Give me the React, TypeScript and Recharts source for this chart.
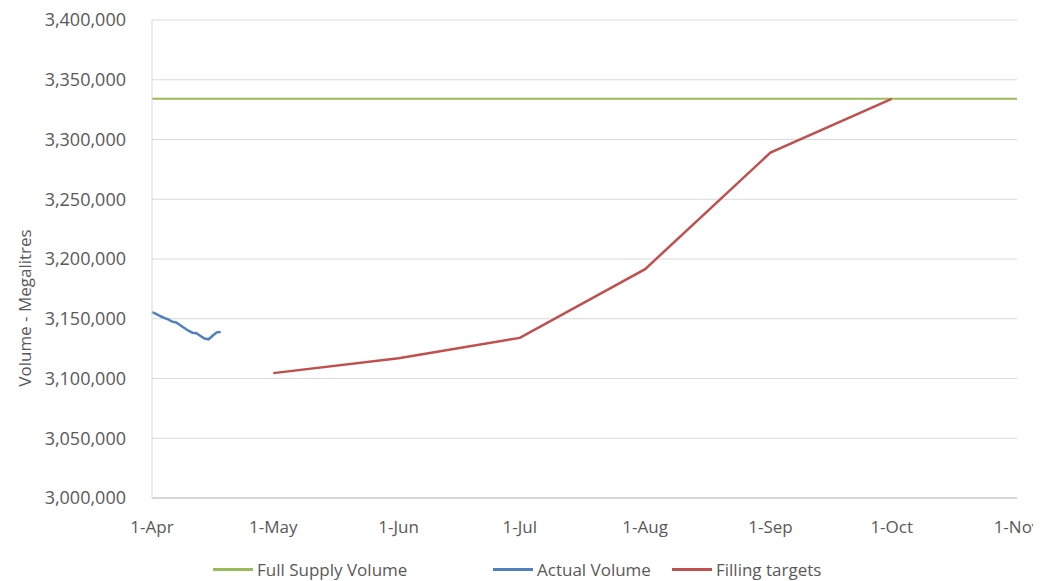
import { CartesianGrid, Legend, Line, LineChart, XAxis, YAxis } from "recharts";

const monthTicks = [0, 30, 61, 91, 122, 153, 183, 214];
const monthLabels = ["1-Apr", "1-May", "1-Jun", "1-Jul", "1-Aug", "1-Sep", "1-Oct", "1-Nov"];
const volumeTicks = [3000000, 3050000, 3100000, 3150000, 3200000, 3250000, 3300000, 3350000, 3400000];
const seriesNames = ["Full Supply Volume", "Actual Volume", "Filling targets"];

const fullSupplyDays = [0, 214];
const fullSupplyVolume = 3334000;

const actualDays = [0, 1, 2, 3, 4, 5, 6, 7, 8, 9, 10, 11, 12, 13, 14, 15, 16, 17];
const actualVolume = [
  3155600, 3154000, 3152300, 3150800, 3149400, 3147600, 3146900, 3144600, 3142300,
  3140000, 3138300, 3137900, 3135600, 3133400, 3132800, 3135800, 3138600, 3138900,
];

const targetDays = [30, 61, 91, 122, 153, 183];
const targetVolume = [3104500, 3117000, 3134000, 3191500, 3289000, 3334000];

const fullSupplyData = fullSupplyDays.map((day) => ({ day, v: fullSupplyVolume }));
const actualData = actualDays.map((day, i) => ({ day, v: actualVolume[i] }));
const targetData = targetDays.map((day, i) => ({ day, v: targetVolume[i] }));

const FONT = "'Open Sans', 'Noto Sans', sans-serif";
const TEXT = "#595959";
const legendWidths = [280, 179, 160];

const monthLabel = (d: number) => monthLabels[monthTicks.indexOf(d)] ?? "";

function LegendRow({ payload }: any) {
  const items = [...(payload || [])].sort(
    (a: any, b: any) => seriesNames.indexOf(a.value) - seriesNames.indexOf(b.value)
  );
  return (
    <div
      style={{
        height: 24,
        display: "flex",
        alignItems: "center",
        paddingLeft: 205,
        fontFamily: FONT,
        fontSize: 17,
        color: TEXT,
      }}
    >
      {items.map((p: any, i: number) => (
        <div key={p.value} style={{ display: "flex", alignItems: "center", width: legendWidths[i] }}>
          <span style={{ width: 40, height: 3, background: p.color, marginRight: 4 }} />
          <span>{p.value}</span>
        </div>
      ))}
    </div>
  );
}

export default function App() {
  return (
    <div style={{ width: 1033, height: 573, background: "#fff" }}>
      <LineChart width={1033} height={573} margin={{ top: 12, right: 24, left: 0, bottom: 0 }}>
        <CartesianGrid stroke="#d9d9d9" vertical={false} />
        <XAxis
          type="number"
          dataKey="day"
          domain={[0, 214]}
          ticks={monthTicks}
          tickFormatter={monthLabel}
          interval={0}
          height={59}
          tickSize={0}
          tickMargin={23}
          stroke="#bfbfbf"
          tick={{ fill: TEXT, fontSize: 17, fontFamily: FONT }}
          allowDuplicatedCategory={false}
        />
        <YAxis
          type="number"
          domain={[3000000, 3400000]}
          ticks={volumeTicks}
          interval={0}
          width={144}
          tickSize={0}
          tickMargin={26}
          stroke="#d9d9d9"
          tickFormatter={(v: number) => v.toLocaleString("en-US")}
          tick={{ fill: TEXT, fontSize: 18, fontFamily: FONT }}
          label={{
            content: () => (
              <text
                transform="translate(16,300) rotate(-90)"
                textAnchor="middle"
                dominantBaseline="central"
                fill={TEXT}
                fontSize={17}
                fontFamily={FONT}
              >
                Volume - Megalitres
              </text>
            ),
          }}
        />
        <Legend verticalAlign="bottom" wrapperStyle={{ left: 0, width: 1033 }} content={<LegendRow />} />
        <Line
          data={fullSupplyData}
          dataKey="v"
          name="Full Supply Volume"
          stroke="#9bbb59"
          strokeWidth={2}
          dot={false}
          isAnimationActive={false}
        />
        <Line
          data={actualData}
          dataKey="v"
          name="Actual Volume"
          stroke="#4f81bd"
          strokeWidth={2.5}
          dot={false}
          isAnimationActive={false}
        />
        <Line
          data={targetData}
          dataKey="v"
          name="Filling targets"
          stroke="#c0504d"
          strokeWidth={2.5}
          dot={false}
          isAnimationActive={false}
        />
      </LineChart>
    </div>
  );
}
